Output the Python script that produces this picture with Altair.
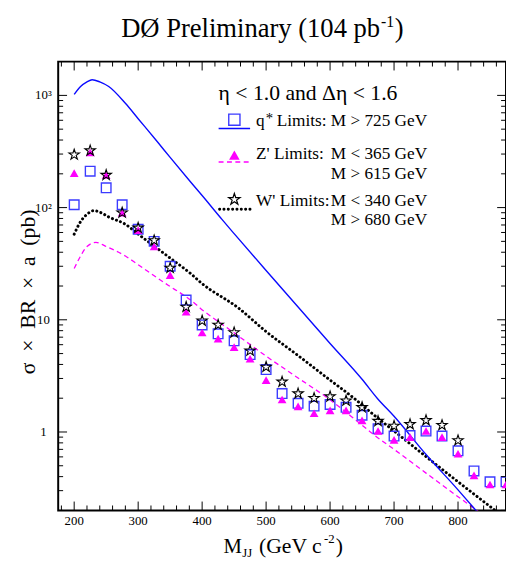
import altair as alt
import pandas as pd

# ---------------- data ----------------
mass = [200, 225, 250, 275, 300, 325, 350, 375, 400, 425, 450, 475, 500, 525,
        550, 575, 600, 625, 650, 675, 700, 725, 750, 775, 800, 825, 850, 875]
qstar_lim = [106, 211, 150, 106, 64, 50, 30, 15, 9.0, 7.5, 6.5, 4.9, 3.6, 2.2,
             1.8, 1.7, 1.76, 1.66, 1.41, 1.07, 0.92, 0.93, 1.02, 0.92, 0.68, 0.45, 0.36, 0.36]
zprime_lim = [203, 310, 195, 90, 63, 45, 25, 11.8, 7.7, 6.8, 5.7, 4.5, 2.9, 1.95,
              1.69, 1.47, 1.56, 1.56, 1.27, 1.02, 0.85, 0.9, 1.02, 0.9, 0.64, 0.41, 0.34, 0.34]
wprime_mass = [200, 225, 250, 275, 300, 325, 350, 375, 400, 425, 450, 475, 500,
               525, 550, 575, 600, 625, 650, 675, 700, 725, 750, 775, 800]
wprime_lim = [296, 322, 195, 90, 66, 51, 29, 13, 9.8, 9.0, 7.7, 5.3, 3.8,
              2.8, 2.2, 2.0, 2.07, 1.9, 1.66, 1.25, 1.13, 1.17, 1.27, 1.15, 0.84]

qstar_th_m = [200, 210, 220, 228, 240, 254, 280, 300, 331, 350, 382, 400, 431, 450,
              500, 550, 600, 650, 674, 700, 750, 800, 828, 850]
qstar_th = [1020, 1200, 1320, 1380, 1320, 1200, 850, 620, 380, 280, 169, 128, 78.5, 58.6,
            27.5, 13, 6.15, 2.95, 1.99, 1.38, 0.63, 0.305, 0.2, 0.143]
wprime_th_m = [200, 210, 220, 231, 240, 255, 280, 300, 331, 350, 382, 400, 457, 500,
               550, 600, 634, 669, 700, 772, 800, 858, 880]
wprime_th = [58, 75, 87, 94, 91, 82, 71, 58, 42.8, 35.5, 25.8, 21, 12.7, 7.85,
             4.8, 2.9, 2.07, 1.41, 1.02, 0.48, 0.36, 0.2, 0.16]
zprime_th_m = [200, 210, 220, 234, 250, 280, 300, 331, 350, 382, 397, 450, 500, 550,
               597, 650, 669, 700, 750, 800, 826, 850]
zprime_th = [28.6, 37, 45, 49, 45, 37, 31, 23.4, 19.8, 15, 12.7, 7.65, 4.74, 3.03,
             1.99, 1.15, 0.94, 0.70, 0.43, 0.265, 0.207, 0.164]

x_major = [200, 300, 400, 500, 600, 700, 800]
x_labels = ["200", "300", "400", "500", "600", "700", "800"]
x_minor = [v for v in range(180, 875, 20) if v % 100 != 0]
y_major = [1, 10, 100, 1000]
y_labels = ["1", "10", "10²", "10³"]
y_minor = [0.2, 0.3, 0.4, 0.5, 0.6, 0.7, 0.8, 0.9,
           2, 3, 4, 5, 6, 7, 8, 9,
           20, 30, 40, 50, 60, 70, 80, 90,
           200, 300, 400, 500, 600, 700, 800, 900]

# ---------------- styling ----------------
W, H = 455, 456
FONT = "Liberation Serif"
BLUE = "#0a0aff"
SQ = "#3b3bff"
MAG = "#ff00ff"
STAR = ("M0,-1L0.2245,-0.309L0.951,-0.309L0.363,0.118L0.588,0.809L0,0.382"
        "L-0.588,0.809L-0.363,0.118L-0.951,-0.309L-0.2245,-0.309Z")

xs = alt.Scale(domain=[175, 875], nice=False, zero=False)
ys = alt.Scale(type="log", domain=[0.2, 2000], nice=False)


def X():
    return alt.X("m:Q", scale=xs, axis=None)


def Y():
    return alt.Y("v:Q", scale=ys, axis=None)


def df(m, v):
    return pd.DataFrame({"m": m, "v": v})


layers = []

# theory curves
layers.append(alt.Chart(df(zprime_th_m, zprime_th)).mark_line(
    color=MAG, strokeWidth=1.3, strokeDash=[5, 3.5], interpolate="monotone", clip=True
).encode(x=X(), y=Y()))
layers.append(alt.Chart(df(wprime_th_m, wprime_th)).mark_line(
    color="black", strokeWidth=3, strokeDash=[0.1, 4.3], strokeCap="round",
    interpolate="monotone", clip=True
).encode(x=X(), y=Y()))
layers.append(alt.Chart(df(qstar_th_m, qstar_th)).mark_line(
    color=BLUE, strokeWidth=1.4, interpolate="monotone", clip=True
).encode(x=X(), y=Y()))

# limits
layers.append(alt.Chart(df(mass, qstar_lim)).mark_point(
    shape="square", size=95, filled=False, color=SQ, strokeWidth=1.4, opacity=1, clip=True
).encode(x=X(), y=Y()))
layers.append(alt.Chart(df(mass, zprime_lim)).mark_point(
    shape="triangle-up", size=80, filled=True, color=MAG, opacity=1, clip=True
).encode(x=X(), y=Y()))
layers.append(alt.Chart(df(wprime_mass, wprime_lim)).mark_point(
    shape=STAR, size=125, filled=False, color="black", strokeWidth=1.1, opacity=1, clip=True
).encode(x=X(), y=Y()))

# inward ticks on all four sides
xmaj = pd.DataFrame({"m": x_major})
xmin = pd.DataFrame({"m": x_minor})
ymaj = pd.DataFrame({"v": y_major})
ymin = pd.DataFrame({"v": y_minor})
for d, ln in ((xmaj, 9), (xmin, 5)):
    layers.append(alt.Chart(d).mark_rule(color="black", strokeWidth=1).encode(
        x=X(), y=alt.value(H), y2=alt.value(H - ln)))
    layers.append(alt.Chart(d).mark_rule(color="black", strokeWidth=1).encode(
        x=X(), y=alt.value(0), y2=alt.value(ln)))
for d, ln in ((ymaj, 9), (ymin, 5)):
    layers.append(alt.Chart(d).mark_rule(color="black", strokeWidth=1).encode(
        y=Y(), x=alt.value(0), x2=alt.value(ln)))
    layers.append(alt.Chart(d).mark_rule(color="black", strokeWidth=1).encode(
        y=Y(), x=alt.value(W), x2=alt.value(W - ln)))

# tick labels
layers.append(alt.Chart(pd.DataFrame({"m": x_major, "t": x_labels})).mark_text(
    font=FONT, fontSize=13, baseline="top", align="center", color="black"
).encode(x=X(), y=alt.value(H + 5), text="t:N"))
layers.append(alt.Chart(pd.DataFrame({"v": y_major, "t": y_labels})).mark_text(
    font=FONT, fontSize=13, baseline="middle", align="center", color="black"
).encode(y=Y(), x=alt.value(-15), text="t:N"))


def txt(t, x, y, size, align="left", angle=0, baseline="alphabetic"):
    return alt.Chart(pd.DataFrame({"t": [t]})).mark_text(
        font=FONT, fontSize=size, align=align, baseline=baseline, angle=angle, color="black"
    ).encode(x=alt.value(x), y=alt.value(y), text="t:N")


# title
layers.append(txt("DØ Preliminary (104 pb", 64, -25, 27))
layers.append(txt("-1", 328, -35, 16))
layers.append(txt(")", 342, -25, 27))

# axis titles
SP = "\u2002"
layers.append(txt(SP.join(["σ", "×", "BR", "×", "a", "(pb)"]), -31, 234, 22,
                  align="center", angle=270, baseline="middle"))
layers.append(txt("M", 168, 499, 21))
layers.append(txt("JJ", 187, 503, 13))
layers.append(txt("(GeV c", 204, 499, 22))
layers.append(txt("-2", 270, 489, 13))
layers.append(txt(")", 282, 499, 22))

# legend text
LF = 17.5
layers.append(txt("η < 1.0 and Δη < 1.6", 163, 39, 22))
layers.append(txt("q", 201, 65, LF))
layers.append(txt("*", 211, 62, 15))
layers.append(txt("Limits:", 222, 65, LF))
layers.append(txt("M > 725 GeV", 277, 65, LF))
layers.append(txt("Z' Limits:", 201, 99, LF))
layers.append(txt("M < 365 GeV", 277, 99, LF))
layers.append(txt("M > 615 GeV", 277, 119, LF))
layers.append(txt("W' Limits:", 201, 147, LF))
layers.append(txt("M < 340 GeV", 277, 147, LF))
layers.append(txt("M > 680 GeV", 277, 166, LF))

# legend glyphs
one = pd.DataFrame({"a": [0]})
layers.append(alt.Chart(one).mark_rule(color=BLUE, strokeWidth=1.4).encode(
    x=alt.value(163), x2=alt.value(195), y=alt.value(68)))
layers.append(alt.Chart(one).mark_rule(color=MAG, strokeWidth=1.3, strokeDash=[5, 3.5]).encode(
    x=alt.value(163), x2=alt.value(195), y=alt.value(102)))
layers.append(alt.Chart(one).mark_rule(color="black", strokeWidth=3, strokeDash=[0.1, 4.3],
                                       strokeCap="round").encode(
    x=alt.value(164), x2=alt.value(196), y=alt.value(150)))
layers.append(alt.Chart(one).mark_point(shape="square", size=130, filled=False, color=SQ,
                                        strokeWidth=1.4, opacity=1).encode(
    x=alt.value(179), y=alt.value(59)))
layers.append(alt.Chart(one).mark_point(shape="triangle-up", size=115, filled=True, color=MAG,
                                        opacity=1).encode(
    x=alt.value(179), y=alt.value(95)))
layers.append(alt.Chart(one).mark_point(shape=STAR, size=150, filled=False, color="black",
                                        strokeWidth=1.2, opacity=1).encode(
    x=alt.value(179), y=alt.value(140)))

chart = alt.layer(*layers).properties(
    width=W, height=H,
    autosize=alt.AutoSizeParams(type="none"),
    padding={"left": 51, "top": 50, "right": 0, "bottom": 52},
    background="white",
).configure_view(stroke="black", strokeWidth=2)

chart.save("out.html", embed_options={"renderer": "svg", "actions": False})
